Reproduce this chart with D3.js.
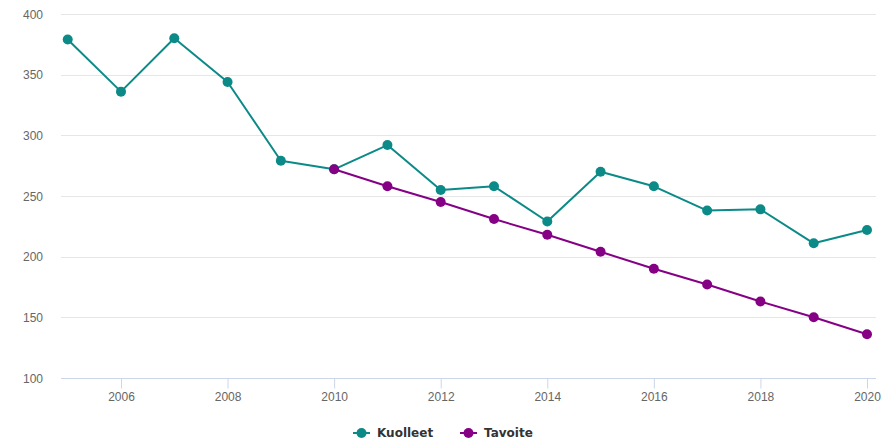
<!DOCTYPE html>
<html>
<head>
<meta charset="utf-8">
<script src="https://cdn.jsdelivr.net/npm/d3@7"></script>
<style>
  body { margin: 0; background: #fff; }
  svg { font-family: "DejaVu Sans", sans-serif; }
  .tick text { fill: #666; font-size: 12px; }
  .legend text { fill: #333; font-size: 12px; font-weight: bold; }
</style>
</head>
<body>
<div id="main"></div>
<script>
var years = [2005, 2006, 2007, 2008, 2009, 2010, 2011, 2012, 2013, 2014, 2015, 2016, 2017, 2018, 2019, 2020];
var kuolleet = [379, 336, 380, 344, 279, 272, 292, 255, 258, 229, 270, 258, 238, 239, 211, 222];
var tavoiteYears = [2010, 2011, 2012, 2013, 2014, 2015, 2016, 2017, 2018, 2019, 2020];
var tavoite = [272, 258, 245, 231, 218, 204, 190, 177, 163, 150, 136];
var yTicks = [100, 150, 200, 250, 300, 350, 400];
var xTicks = [2006, 2008, 2010, 2012, 2014, 2016, 2018, 2020];

var ctx = {
    w: 887,
    h: 441,
    left: 61,
    right: 876,
    top: 14,
    bottom: 378,
};

var series = [
    {name: "Kuolleet", color: "#0b8a87", x: years, y: kuolleet},
    {name: "Tavoite", color: "#850085", x: tavoiteYears, y: tavoite},
];

var svg = d3.select("#main").append("svg")
    .attr("width", ctx.w)
    .attr("height", ctx.h);

// plot area is padded a few pixels each side of the first/last year
var xScale = d3.scaleLinear().domain([2005, 2020]).range([67.7, 867]);
var yScale = d3.scaleLinear().domain([100, 400]).range([ctx.bottom, ctx.top]);

// grid lines
svg.append("g")
  .selectAll("line")
  .data(yTicks)
  .enter()
  .append("line")
  .attr("x1", ctx.left)
  .attr("x2", ctx.right)
  .attr("y1", function(d){ return Math.round(yScale(d)) + 0.5; })
  .attr("y2", function(d){ return Math.round(yScale(d)) + 0.5; })
  .style("stroke", "#e6e6e6");

// y labels
svg.append("g")
  .attr("transform", "translate(43,0)")
  .call(d3.axisLeft(yScale).tickValues(yTicks).tickSize(0).tickPadding(0))
  .call(function(g){ g.select(".domain").remove(); })
  .selectAll("text")
  .attr("dy", "0.35em");

// x axis
var xAxisG = svg.append("g")
  .attr("transform", `translate(0,${Math.round(ctx.bottom) + 0.5})`)
  .call(d3.axisBottom(xScale).tickValues(xTicks).tickFormat(d3.format("d")).tickSize(10).tickSizeOuter(0).tickPadding(4));
xAxisG.select(".domain").remove();
xAxisG.selectAll(".tick line").style("stroke", "#ccd6eb");
xAxisG.append("line")
  .attr("x1", ctx.left)
  .attr("x2", ctx.right)
  .style("stroke", "#ccd6eb");

// lines + markers
var lineGen = d3.line()
    .x(function(d){ return xScale(d[0]); })
    .y(function(d){ return yScale(d[1]); });

series.forEach(function(s){
    var pts = s.x.map(function(x, i){ return [x, s.y[i]]; });
    var g = svg.append("g");
    g.append("path")
      .datum(pts)
      .attr("d", lineGen)
      .attr("fill", "none")
      .attr("stroke", s.color)
      .attr("stroke-width", 2)
      .attr("stroke-linejoin", "round");
    g.selectAll("circle")
      .data(pts)
      .enter()
      .append("circle")
      .attr("cx", function(d){ return xScale(d[0]); })
      .attr("cy", function(d){ return yScale(d[1]); })
      .attr("r", 5)
      .attr("fill", s.color);
});

// legend
var legendX = [353, 460];
var legend = svg.append("g").attr("class", "legend");
series.forEach(function(s, i){
    var lg = legend.append("g").attr("transform", `translate(${legendX[i]},433)`);
    lg.append("line")
      .attr("x1", 0).attr("x2", 17)
      .attr("stroke", s.color)
      .attr("stroke-width", 2);
    lg.append("circle")
      .attr("cx", 8.5).attr("r", 5)
      .attr("fill", s.color);
    lg.append("text")
      .attr("x", 24)
      .attr("dy", "0.35em")
      .text(s.name);
});
</script>
</body>
</html>
